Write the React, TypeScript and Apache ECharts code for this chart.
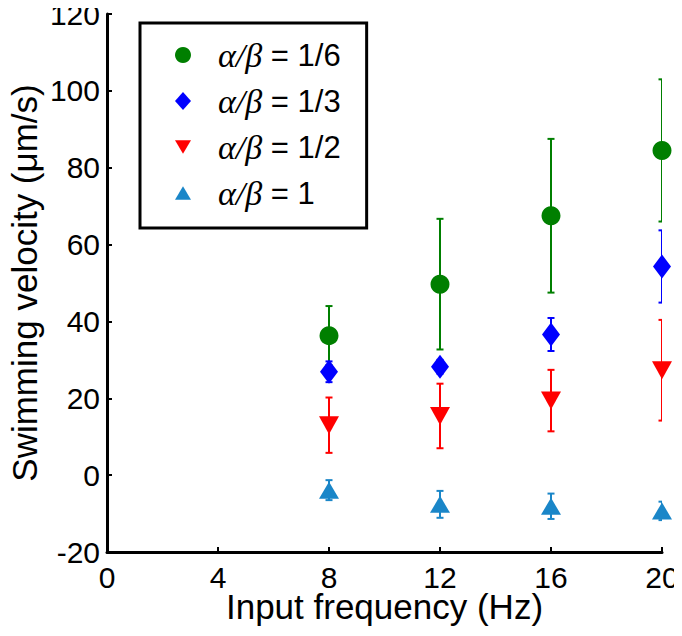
import React, { useEffect, useRef } from "react";
import * as echarts from "echarts";

const frequencies = [8, 12, 16, 20];
const seriesNames = ["α/β = 1/6", "α/β = 1/3", "α/β = 1/2", "α/β = 1"];
const meanSixth = [36.3, 49.7, 67.5, 84.5];
const errSixth = [7.7, 17, 20, 18.5];
const meanThird = [26.9, 28.2, 36.6, 54.3];
const errThird = [2.7, 1.8, 4.3, 9.4];
const meanHalf = [13, 15.4, 19.4, 27.3];
const errHalf = [7.2, 8.4, 8, 13.1];
const meanOne = [-3.9, -7.6, -8.1, -9.3];
const errOne = [2.6, 3.5, 3.3, 2.4];
const xTicks = [0, 4, 8, 12, 16, 20];
const yTicks = [-20, 0, 20, 40, 60, 80, 100, 120];

const colors = ["#007f00", "#0000ff", "#ff0000", "#1a86c8"];
const symbols = ["circle", "diamond", "triangle", "triangle"];
const legendIcons = ["circle", "diamond", "path://M0,0L20,0L10,17Z", "path://M10,0L20,17L0,17Z"];
const rotations = [0, 0, 180, 0];
const sizes: any[] = [19, [18, 24], [20, 18], [20, 17]];

const means = [meanSixth, meanThird, meanHalf, meanOne];
const errs = [errSixth, errThird, errHalf, errOne];

const FONT = "'Liberation Sans', Arial, Helvetica, sans-serif";

export default function App() {
  const ref = useRef<HTMLDivElement>(null);
  useEffect(() => {
    if (!ref.current) return;
    const chart = echarts.init(ref.current, undefined, { renderer: "svg" });
    const series: any[] = [];
    means.forEach((m, i) => {
      series.push({
        type: "scatter",
        name: seriesNames[i],
        symbol: symbols[i],
        symbolSize: sizes[i],
        symbolRotate: rotations[i],
        z: 3,
        itemStyle: { color: colors[i], opacity: 1 },
        data: frequencies.map((f, j) => [f, m[j]]),
      });
    });
    means.forEach((m, i) => {
      series.push({
        type: "custom",
        name: seriesNames[i],
        clip: true,
        silent: true,
        z: 2,
        itemStyle: { color: colors[i] },
        data: frequencies.map((f, j) => [f, m[j] - errs[i][j], m[j] + errs[i][j]]),
        renderItem: (params: any, api: any) => {
          const x = api.value(0);
          const lo = api.coord([x, api.value(1)]);
          const hi = api.coord([x, api.value(2)]);
          const hw = 3.5;
          const style = { stroke: colors[i], lineWidth: 2 };
          return {
            type: "group",
            children: [
              { type: "line", shape: { x1: lo[0], y1: lo[1], x2: hi[0], y2: hi[1] }, style },
              { type: "line", shape: { x1: lo[0] - hw, y1: lo[1], x2: lo[0] + hw, y2: lo[1] }, style },
              { type: "line", shape: { x1: hi[0] - hw, y1: hi[1], x2: hi[0] + hw, y2: hi[1] }, style },
            ],
          };
        },
      });
    });
    chart.setOption({
      animation: false,
      grid: { left: 107, right: 20, top: 14, bottom: 84, containLabel: false, outerBoundsMode: "none" },
      xAxis: {
        type: "value",
        min: xTicks[0],
        max: xTicks[xTicks.length - 1],
        interval: 4,
        name: "Input frequency (Hz)",
        nameLocation: "middle",
        nameMoveOverlap: false,
        nameGap: 39,
        nameTextStyle: { fontFamily: FONT, fontSize: 35, color: "#000", lineHeight: 30 },
        axisLine: { onZero: false, lineStyle: { color: "#000", width: 3 } },
        axisTick: { inside: true, length: 5, lineStyle: { color: "#000", width: 2 } },
        axisLabel: { fontFamily: FONT, fontSize: 30, color: "#000", margin: 12, lineHeight: 26 },
        splitLine: { show: false },
      },
      yAxis: {
        type: "value",
        min: yTicks[0],
        max: yTicks[yTicks.length - 1],
        interval: 20,
        name: "Swimming velocity (μm/s)",
        nameLocation: "middle",
        nameMoveOverlap: false,
        nameGap: 64,
        nameTextStyle: { fontFamily: FONT, fontSize: 35, color: "#000", lineHeight: 38 },
        axisLine: { onZero: false, lineStyle: { color: "#000", width: 3 } },
        axisTick: { inside: true, length: 5, lineStyle: { color: "#000", width: 2 } },
        axisLabel: { fontFamily: FONT, fontSize: 30, color: "#000", margin: 7, lineHeight: 22 },
        splitLine: { show: false },
      },
      legend: {
        orient: "vertical",
        left: 140,
        top: 23,
        padding: [14, 26, 17, 35],
        itemWidth: 16,
        itemHeight: 18,
        itemGap: 10,
        borderColor: "#000",
        borderWidth: 3,
        backgroundColor: "#fff",
        data: seriesNames.map((n, i) => ({ name: n, icon: legendIcons[i] })),
        formatter: (name: string) => "{s|}" + name.replace("α/β", "{g|α/β}"),
        textStyle: {
          fontFamily: FONT,
          fontSize: 31,
          color: "#000",
          lineHeight: 36,
          rich: {
            s: { width: 22, lineHeight: 36 },
            g: {
              fontFamily: "'Liberation Serif', 'Times New Roman', serif",
              fontStyle: "italic",
              fontSize: 34,
              color: "#000",
              lineHeight: 36,
            },
          },
        },
      },
      series,
    });
    return () => chart.dispose();
  }, []);
  return <div ref={ref} style={{ width: 682, height: 636, margin: -8 }} />;
}
